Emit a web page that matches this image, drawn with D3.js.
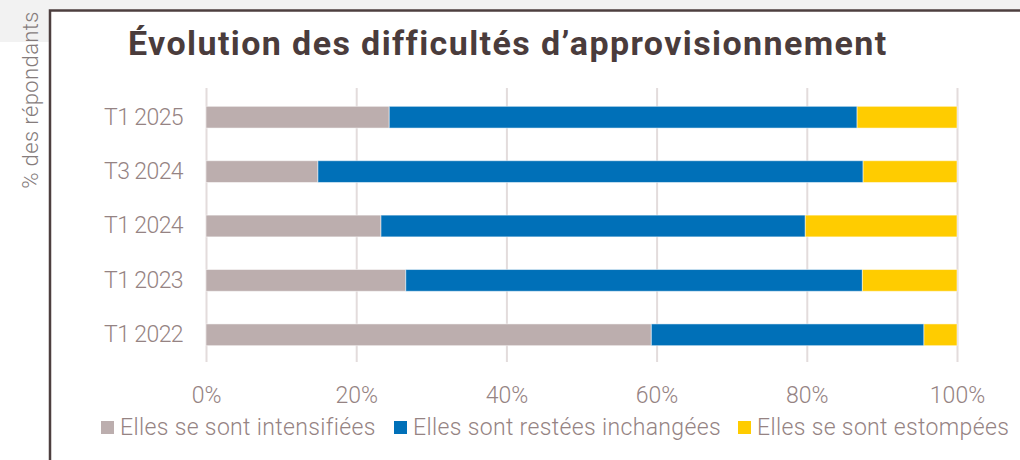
<!DOCTYPE html>
<html>
<head>
<meta charset="utf-8">
<script src="https://cdn.jsdelivr.net/npm/d3@7"></script>
<style>
	body { margin: 0; background: #fff; }
	svg { display: block; font-family: Roboto, "Noto Sans", sans-serif; }
</style>
</head>
<body>
<div id="chart-bg"></div>
<script>
// periods, bottom to top as read on the chart
var periods = ["T1 2022", "T1 2023", "T1 2024", "T3 2024", "T1 2025"];
var intensifiees = [59.3, 26.6, 23.3, 14.9, 24.4];
var inchangees = [36.3, 60.8, 56.5, 72.6, 62.3];
var estompees = [4.4, 12.6, 20.2, 12.5, 13.3];
var seriesNames = ["Elles se sont intensifiées", "Elles sont restées inchangées", "Elles se sont estompées"];
var seriesColors = ["#bcaeae", "#0070b8", "#ffcc00"];
var xTicks = [0, 20, 40, 60, 80, 100];

var w = 1020;
var h = 460;
var textColor = "#958383";

var rows = periods.map(function (p, i) {
	return {period: p, a: intensifiees[i], b: inchangees[i], c: estompees[i]};
});
var stack = d3.stack().keys(["a", "b", "c"]);
var layers = stack(rows);

var xScale = d3.scaleLinear().domain([0, 100]).range([206, 957]);
var yScale = d3.scaleBand().domain(periods.slice().reverse()).range([90, 362]).paddingInner(0.6).paddingOuter(0.3);

var svg = d3.
select("#chart-bg").
append("svg").
attr("width", w).
attr("height", h);

// page background pieces and the frame
svg.append("rect").attr("x", 0).attr("y", 0).attr("width", w).attr("height", 10).attr("fill", "#f2f2f2");
svg.append("rect").attr("x", 0).attr("y", 0).attr("width", 49).attr("height", 42).attr("fill", "#f2f2f2");
svg.append("path").
attr("d", "M50," + h + "V10.5H" + w).
attr("fill", "none").
attr("stroke", "#4d3f3f").
attr("stroke-width", 2.5);

svg.
append("text").
attr("transform", "translate(38,100) rotate(-90)").
attr("text-anchor", "middle").
attr("fill", "#857c7c").
attr("font-size", "22px").
attr("font-weight", 300).
attr("letter-spacing", "0.4px").
text("% des répondants");

svg.
append("text").
attr("x", 128).
attr("y", 55).
attr("fill", "#4a3c3c").
attr("font-size", "34px").
attr("font-weight", 700).
attr("letter-spacing", "1.4px").
text("Évolution des difficultés d’approvisionnement");

// grid lines + x labels
var xAxis = d3.axisBottom(xScale).tickValues(xTicks).tickFormat(function (d) {return d + "%";}).tickSize(-(362 - 88)).tickPadding(25);
var gx = svg.append("g").attr("transform", "translate(0,362)").call(xAxis);
gx.select(".domain").remove();
gx.selectAll(".tick line").attr("stroke", "#e3dcdc").attr("stroke-width", 2);
gx.selectAll(".tick text").attr("fill", textColor).attr("font-size", "23px").attr("font-weight", 300).attr("font-family", "Roboto, sans-serif");

var yAxis = d3.axisLeft(yScale).tickSize(0).tickPadding(23);
var gy = svg.append("g").attr("transform", "translate(206,0)").call(yAxis);
gy.select(".domain").remove();
gy.selectAll(".tick text").attr("fill", textColor).attr("font-size", "23px").attr("font-weight", 300).attr("letter-spacing", "-0.6px").attr("font-family", "Roboto, sans-serif");

svg.
selectAll("g.layer").
data(layers).
enter().
append("g").
attr("class", "layer").
attr("fill", function (d, i) {return seriesColors[i];}).
selectAll("rect").
data(function (d) {return d;}).
enter().
append("rect").
attr("x", function (d) {return xScale(d[0]);}).
attr("width", function (d) {return xScale(d[1]) - xScale(d[0]);}).
attr("y", function (d) {return yScale(d.data.period);}).
attr("height", yScale.bandwidth()).
attr("stroke", "rgba(255,255,255,0.5)").
attr("stroke-width", 1);

// legend
var legendX = [101, 394, 738];
var legend = svg.
selectAll("g.legend").
data(seriesNames).
enter().
append("g").
attr("class", "legend").
attr("transform", function (d, i) {return "translate(" + legendX[i] + ",421)";});

legend.append("rect").
attr("width", 13).
attr("height", 13).
attr("fill", function (d, i) {return seriesColors[i];});

legend.append("text").
attr("x", 19).
attr("y", 14).
attr("fill", textColor).
attr("font-size", "23px").
attr("font-weight", 300).
attr("letter-spacing", "0.35px").
text(function (d) {return d;});
</script>
</body>
</html>
